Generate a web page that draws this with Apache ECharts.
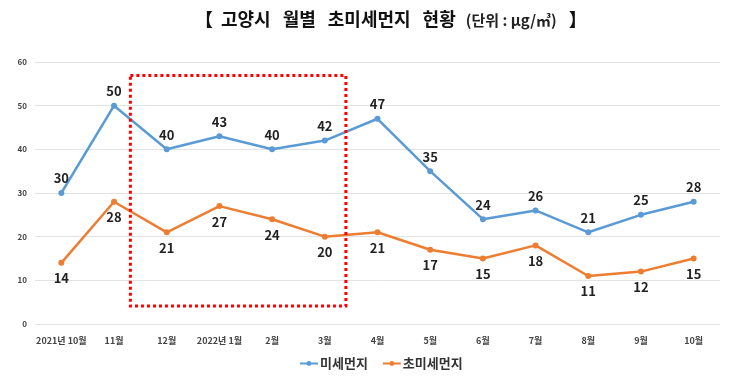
<!DOCTYPE html>
<html><head><meta charset="utf-8">
<script src="https://cdn.jsdelivr.net/npm/echarts@6/dist/echarts.min.js"></script>
<style>html,body{margin:0;padding:0;background:#fff}#c{width:730px;height:382px}</style>
</head><body><div id="c"></div>
<script>
const categories = ['2021년 10월','11월','12월','2022년 1월','2월','3월','4월','5월','6월','7월','8월','9월','10월'];
const pm10 = [30, 50, 40, 43, 40, 42, 47, 35, 24, 26, 21, 25, 28];
const pm25 = [14, 28, 21, 27, 24, 20, 21, 17, 15, 18, 11, 12, 15];
const yTicks = [0, 10, 20, 30, 40, 50, 60];
// highlight box in data terms: category index range and value range
const boxX = [1.31, 5.40];
const boxY = [56.9, 4.1];

const font = '"Noto Sans CJK KR", "Noto Sans", sans-serif';
const chart = echarts.init(document.getElementById('c'));
chart.setOption({
  animation: false,
  textStyle: { fontFamily: font },
  title: {
    text: '{b|【}{w|고양시}{w|월별}{w|초미세먼지}{w|현황}{s|(단위 : μg/㎥)}{b|】}',
    left: 188, top: 5,
    textStyle: { rich: {
      b: { fontSize: 18, fontWeight: 'bold', color: '#111', fontFamily: font, padding: [0, 2] },
      w: { fontSize: 18, fontWeight: 'bold', color: '#111', fontFamily: font, padding: [0, 6] },
      s: { fontSize: 15, color: '#222', fontFamily: font, padding: [2, 10, 0, 4] }
    } }
  },
  grid: { left: 35, right: 10, top: 62, bottom: 58 },
  legend: {
    top: 352, left: 294, itemGap: 14, itemWidth: 18, itemHeight: 6,
    textStyle: { fontSize: 13, fontWeight: 'bold', color: '#333', fontFamily: font, padding: [0, 0, 0, -3] },
    data: ['미세먼지', '초미세먼지']
  },
  xAxis: {
    type: 'category', data: categories, boundaryGap: true,
    axisLine: { show: false }, axisTick: { show: false },
    axisLabel: { interval: 0, fontSize: 9, fontWeight: 'bold', color: '#444', margin: 12 }
  },
  yAxis: {
    type: 'value', min: yTicks[0], max: yTicks[yTicks.length - 1], interval: 10,
    axisLine: { show: false }, axisTick: { show: false },
    axisLabel: { fontSize: 8, fontWeight: 'bold', color: '#444', margin: 8 },
    splitLine: { lineStyle: { color: '#e3e3e3' } }
  },
  series: [
    {
      name: '미세먼지', type: 'line', data: pm10,
      symbol: 'circle', symbolSize: 6,
      lineStyle: { width: 2.5, color: '#5B9BD5' },
      itemStyle: { color: '#5B9BD5' },
      label: { show: true, position: 'top', distance: 5, fontSize: 13, fontWeight: 'bold', color: '#222' }
    },
    {
      name: '초미세먼지', type: 'line', data: pm25,
      symbol: 'circle', symbolSize: 6,
      lineStyle: { width: 2.5, color: '#ED7D31' },
      itemStyle: { color: '#ED7D31' },
      label: { show: true, position: 'bottom', distance: 6, fontSize: 13, fontWeight: 'bold', color: '#222' }
    }
  ]
});
function px(i, v) {
  const i0 = Math.floor(i), f = i - i0;
  const a = chart.convertToPixel({ gridIndex: 0 }, [i0, v]);
  const b = chart.convertToPixel({ gridIndex: 0 }, [i0 + 1, v]);
  return [a[0] + f * (b[0] - a[0]), a[1]];
}
const p1 = px(boxX[0], boxY[0]);
const p2 = px(boxX[1], boxY[1]);
chart.setOption({
  graphic: [{
    type: 'rect', z: 100,
    shape: { x: p1[0], y: p1[1], width: p2[0] - p1[0], height: p2[1] - p1[1] },
    style: { fill: 'none', stroke: '#ff0000', lineWidth: 3, lineDash: [3, 3] }
  }]
});
</script></body></html>
